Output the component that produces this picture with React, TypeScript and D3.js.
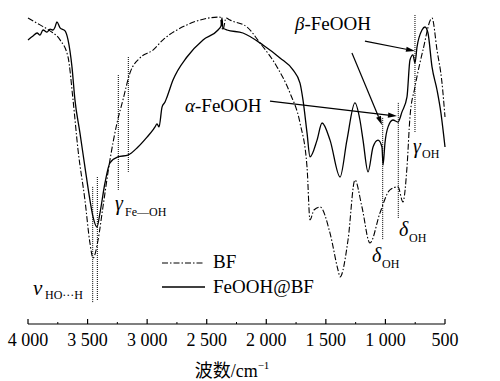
import React from "react";
import * as d3 from "d3";

// wavenumber (cm^-1) and relative transmittance
const feoohWn = [4000,3958,3924,3899,3874,3841,3815,3790,3773,3757,3731,3689,3664,3631,3606,3564,3522,3480,3454,3421,3396,3354,3312,3245,3161,3077,3001,2951,2934,2917,2900,2875,2850,2833,2783,2666,2531,2405,2380,2372,2364,2330,2196,2028,1885,1776,1717,1692,1658,1633,1574,1532,1465,1381,1323,1256,1214,1188,1146,1104,1062,1029,1020,1004,978,937,895,861,819,794,769,752,735,693,668,643,609,567,534,500];
const feoohT = [91.7,93.0,94.0,93.3,95.0,94.3,95.3,95.0,96.0,97.7,95.7,94.7,91.7,82.7,71.7,60.7,49.3,38.3,32.7,29.3,34.0,44.0,50.7,52.7,53.3,56.0,59.3,61.7,62.7,63.7,62.7,69.3,71.0,72.7,78.3,86.0,91.7,95.0,96.3,99.0,95.7,95.0,94.0,90.0,85.7,81.7,77.3,71.7,60.7,52.7,58.3,64.0,58.3,46.0,58.3,70.7,65.0,58.3,47.7,56.0,58.3,56.0,50.0,57.3,62.7,65.0,64.3,67.7,72.7,85.0,86.7,84.0,89.3,95.0,96.0,94.0,82.7,75.0,67.3,56.0];

const bfWn = [4000,3899,3815,3731,3664,3622,3580,3522,3480,3454,3412,3371,3312,3253,3203,3144,3060,2951,2867,2666,2389,2364,2338,2305,2162,2053,1910,1801,1717,1658,1633,1600,1549,1465,1398,1381,1314,1256,1197,1130,1046,962,895,853,819,794,752,685,609,567,525,500];
const bfT = [99.0,96.7,94.7,91.7,86.0,71.7,55.0,38.3,24.0,19.0,25.0,36.0,51.7,64.0,71.7,80.7,85.7,88.3,91.7,96.7,99.3,95.0,99.0,98.3,96.0,90.7,82.7,74.0,64.0,49.3,31.7,35.0,36.0,27.3,15.0,12.7,25.0,45.0,36.0,24.0,34.0,41.7,42.7,37.7,49.3,66.0,76.0,88.3,99.0,88.3,77.3,66.0];

const xTicks = [4000,3500,3000,2500,2000,1500,1000,500];
const xMinorTicks = [3750,3250,2750,2250,1750,1250,750];

// dotted marker lines: wavenumber, top T, bottom T
const markerWn = [3457,3418,3242,3158,1023,892,752];
const markerTop = [42.7,46,80,86,65.7,70.7,100];
const markerBottom = [4,5,41.7,47.7,25,32.3,60.7];

// arrows: from (wn,T) to (wn,T)
const arrowFromWn = [1172,1281,1969];
const arrowFromT = [91.3,87.3,71.3];
const arrowToWn = [752,1029,903];
const arrowToT = [88,63.3,66.3];

const serif = "Liberation Serif";
const cjk = "Liberation Serif, Noto Sans CJK SC";

export default function App() {
  const x = d3.scaleLinear().domain([4000, 500]).range([28, 445]);
  const y = d3.scaleLinear().domain([0, 100]).range([315, 15]);
  const line = d3
    .line<[number, number]>()
    .x((d) => x(d[0]))
    .y((d) => y(d[1]))
    .curve(d3.curveMonotoneX);
  const feooh = feoohWn.map((w, i) => [w, feoohT[i]] as [number, number]);
  const bf = bfWn.map((w, i) => [w, bfT[i]] as [number, number]);
  const axisY = 324;
  const fmt = (v: number) => d3.format(",")(v).replace(",", " ");

  const arrows = arrowFromWn.map((w, i) => {
    const x1 = x(w), y1 = y(arrowFromT[i]);
    const x2 = x(arrowToWn[i]), y2 = y(arrowToT[i]);
    const ang = Math.atan2(y2 - y1, x2 - x1);
    const L = 9, W = 2.6;
    const bx = x2 - L * Math.cos(ang), by = y2 - L * Math.sin(ang);
    const px = -Math.sin(ang) * W, py = Math.cos(ang) * W;
    return { x1, y1, bx, by, x2, y2, head: `M${x2},${y2}L${bx + px},${by + py}L${bx - px},${by - py}Z` };
  });

  const ts = { fontFamily: serif } as React.CSSProperties;

  return (
    <svg width={500} height={381} style={{ position: "absolute", left: 0, top: 0, background: "#fff", fontFamily: serif }}>
      <rect width={500} height={381} fill="#fff" />
      {/* curves */}
      <path d={line(bf) || ""} fill="none" stroke="#000" strokeWidth={1.1} strokeDasharray="6,2,1.5,2" />
      <path d={line(feooh) || ""} fill="none" stroke="#000" strokeWidth={1.3} />
      {/* dotted markers */}
      {markerWn.map((w, i) => (
        <line key={"m" + i} x1={x(w)} x2={x(w)} y1={y(markerTop[i])} y2={y(markerBottom[i])} stroke="#000" strokeWidth={1} strokeDasharray="1,1" />
      ))}
      {/* arrows */}
      {arrows.map((a, i) => (
        <g key={"a" + i}>
          <line x1={a.x1} y1={a.y1} x2={a.bx} y2={a.by} stroke="#000" strokeWidth={1.2} />
          <path d={a.head} fill="#000" />
        </g>
      ))}
      {/* axis */}
      <line x1={x(4000)} x2={x(500)} y1={axisY} y2={axisY} stroke="#000" strokeWidth={1.2} />
      {xTicks.map((t) => (
        <g key={"t" + t}>
          <line x1={x(t)} x2={x(t)} y1={axisY} y2={axisY - 5} stroke="#000" strokeWidth={1.2} />
          <text x={x(t)} y={346} fontSize={18} textAnchor="middle" style={ts}>{fmt(t)}</text>
        </g>
      ))}
      {xMinorTicks.map((t) => (
        <line key={"mt" + t} x1={x(t)} x2={x(t)} y1={axisY} y2={axisY - 2} stroke="#000" strokeWidth={1} />
      ))}
      <text x={232} y={377} fontSize={18} textAnchor="middle" style={{ fontFamily: cjk }}>
        波数/cm<tspan fontSize={11} dy={-8}>−1</tspan>
      </text>
      {/* legend */}
      <line x1={162} x2={203} y1={263} y2={263} stroke="#000" strokeWidth={1.1} strokeDasharray="6,2,1.5,2" />
      <text x={213} y={268} fontSize={19} style={ts}>BF</text>
      <line x1={162} x2={205} y1={287} y2={287} stroke="#000" strokeWidth={1.3} />
      <text x={213} y={293} fontSize={19} style={ts}>FeOOH@BF</text>
      {/* labels */}
      <text x={295} y={30} fontSize={19} style={ts}><tspan fontStyle="italic">β</tspan>-FeOOH</text>
      <text x={185} y={112} fontSize={19} style={ts}><tspan fontStyle="italic">α</tspan>-FeOOH</text>
      <text x={33} y={295} fontSize={21} fontStyle="italic" style={ts}>v</text>
      <text x={45} y={299} fontSize={12} style={ts}>HO···H</text>
      <text x={115} y={210} fontSize={20} fontStyle="italic" style={ts}>γ</text>
      <text x={125} y={216} fontSize={12} style={ts}>Fe—OH</text>
      <text x={372} y={262} fontSize={20} fontStyle="italic" style={ts}>δ</text>
      <text x={382} y={268} fontSize={12} style={ts}>OH</text>
      <text x={399} y={236} fontSize={20} fontStyle="italic" style={ts}>δ</text>
      <text x={409} y={242} fontSize={12} style={ts}>OH</text>
      <text x={413} y={153} fontSize={20} fontStyle="italic" style={ts}>γ</text>
      <text x={422} y={158} fontSize={12} style={ts}>OH</text>
    </svg>
  );
}
